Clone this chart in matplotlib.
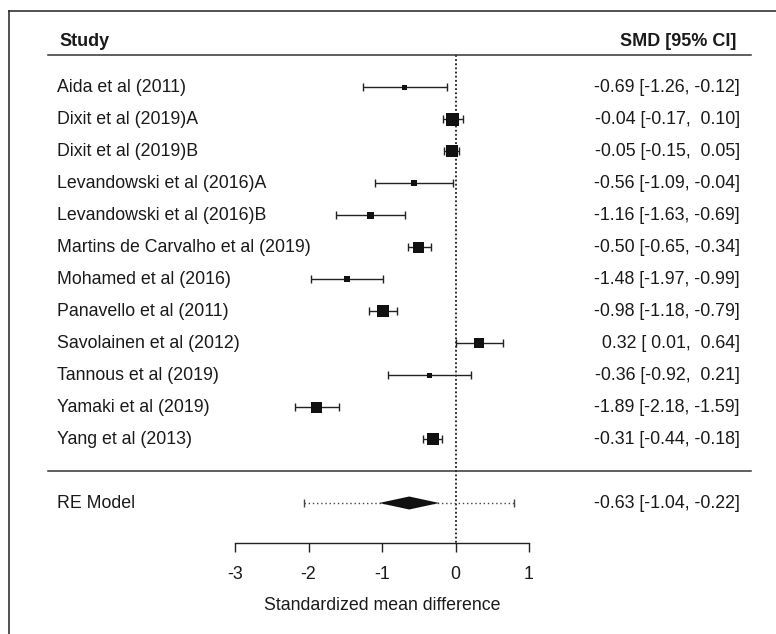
import numpy as np
import matplotlib
matplotlib.use("Agg")
import matplotlib.pyplot as plt
from matplotlib.lines import Line2D

plt.rcParams['font.family'] = ['Liberation Sans', 'DejaVu Sans']

# datos
estudios = ["Aida et al (2011)", "Dixit et al (2019)A", "Dixit et al (2019)B",
            "Levandowski et al (2016)A", "Levandowski et al (2016)B",
            "Martins de Carvalho et al (2019)", "Mohamed et al (2016)",
            "Panavello et al (2011)", "Savolainen et al (2012)",
            "Tannous et al (2019)", "Yamaki et al (2019)", "Yang et al (2013)"]
smd = [-0.69, -0.04, -0.05, -0.56, -1.16, -0.50, -1.48, -0.98, 0.32, -0.36, -1.89, -0.31]
ci_inf = [-1.26, -0.17, -0.15, -1.09, -1.63, -0.65, -1.97, -1.18, 0.01, -0.92, -2.18, -0.44]
ci_sup = [-0.12, 0.10, 0.05, -0.04, -0.69, -0.34, -0.99, -0.79, 0.64, 0.21, -1.59, -0.18]
tam_px = [5, 13, 12, 6, 7, 11, 6, 12, 10, 5, 11, 12]  # tamano del cuadrado (peso)

re_est, re_inf, re_sup = -0.63, -1.04, -0.22
pi_inf, pi_sup = -2.06, 0.80
ticks = [-3, -2, -1, 0, 1]

DPI = 100
W, H = 776, 634
x0_px, esc_x = 455.5, 73.5   # pixel de x=0 y pixeles por unidad
y12_px, fila = 87.0, 32.0    # pixel de la primera fila y alto de fila

fig = plt.figure(figsize=(W / DPI, H / DPI), dpi=DPI)
ax = fig.add_axes([0, 0, 1, 1])
ax.set_xlim(-x0_px / esc_x, (W - x0_px) / esc_x)
ax.set_ylim(12 - (H - y12_px) / fila, 12 + y12_px / fila)

k = len(estudios)
ys = np.arange(k, 0, -1)
smd = np.array(smd)
ci_inf = np.array(ci_inf)
ci_sup = np.array(ci_sup)

negro = "#1a1a1a"
fs = 12.8
x_txt = (57 - x0_px) / esc_x
x_der = (740 - x0_px) / esc_x
x_lin0 = (48 - x0_px) / esc_x
x_lin1 = (751 - x0_px) / esc_x
y_eje = 12 - (543 - y12_px) / fila

# linea de referencia en 0
ax.plot([0, 0], [k + 1, y_eje], color=negro, lw=1.3, ls=(0, (1, 1.3)), zorder=1)

# intervalos de confianza y cuadrados
ax.errorbar(smd, ys, xerr=[smd - ci_inf, ci_sup - smd], fmt='none',
            ecolor="#222222", elinewidth=1.0, capsize=2.6, capthick=1.0, zorder=2)
ax.scatter(smd, ys, s=(np.array(tam_px) * 72 / DPI) ** 2, marker='s',
           color="#111111", linewidths=0, zorder=3)

for y, nom, e, lo, hi in zip(ys, estudios, smd, ci_inf, ci_sup):
    ax.text(x_txt, y, nom, ha='left', va='center', fontsize=fs, color=negro)
    ax.text(x_der, y, f"{e:5.2f} [{lo:5.2f}, {hi:5.2f}]", ha='right', va='center',
            fontsize=fs, color=negro)

# encabezado y separadores
ax.text(x_txt + 0.04, k + 1.42, "Study", ha='left', va='center', fontsize=13,
        fontweight='bold', color=negro)
ax.text(x_der - 0.05, k + 1.42, "SMD [95% CI]", ha='right', va='center', fontsize=13,
        fontweight='bold', color=negro)
ax.plot([x_lin0, x_lin1], [k + 1, k + 1], color="#333333", lw=1.1)
ax.plot([x_lin0, x_lin1], [0, 0], color="#333333", lw=1.1)

# modelo RE: intervalo de prediccion (punteado) y diamante
y_re = -1
ax.plot([pi_inf, pi_sup], [y_re, y_re], color="#444444", lw=1.0,
        ls=(0, (1, 2)), zorder=2)
ax.plot([pi_inf, pi_sup], [y_re, y_re], ls='none', marker='|', ms=6,
        mew=1.0, color="#444444", zorder=2)
h = 6.5 / fila
ax.fill([re_inf, re_est, re_sup, re_est], [y_re, y_re + h, y_re, y_re - h],
        color="#111111", lw=0, zorder=3)
ax.text(x_txt, y_re, "RE Model", ha='left', va='center', fontsize=fs, color=negro)
ax.text(x_der, y_re, f"{re_est:5.2f} [{re_inf:5.2f}, {re_sup:5.2f}]", ha='right',
        va='center', fontsize=fs, color=negro)

# eje x
for lado in ['top', 'left', 'right']:
    ax.spines[lado].set_visible(False)
ax.spines['bottom'].set_position(('data', y_eje))
ax.spines['bottom'].set_bounds(ticks[0], ticks[-1])
ax.spines['bottom'].set_color("#222222")
ax.spines['bottom'].set_linewidth(1.0)
ax.set_xticks(ticks)
ax.set_xticklabels([str(t) for t in ticks])
ax.tick_params(axis='x', direction='out', length=6.5, width=1.0, colors="#222222",
               labelsize=fs, labelcolor=negro, pad=10)
ax.set_yticks([])
ax.set_xlabel("Standardized mean difference", fontsize=fs, color=negro)
ax.xaxis.set_label_coords(-1, 12 - (605 - y12_px) / fila, transform=ax.transData)
ax.xaxis.label.set_va('center')
ax.patch.set_alpha(0)

# marco del recuadro
fig.add_artist(Line2D([9 / W, 1], [1 - 11 / H, 1 - 11 / H], transform=fig.transFigure,
                      color="#222222", lw=1.1))
fig.add_artist(Line2D([9 / W, 9 / W], [0, 1 - 11 / H], transform=fig.transFigure,
                      color="#222222", lw=1.1))

fig.savefig("out.png", dpi=DPI)
